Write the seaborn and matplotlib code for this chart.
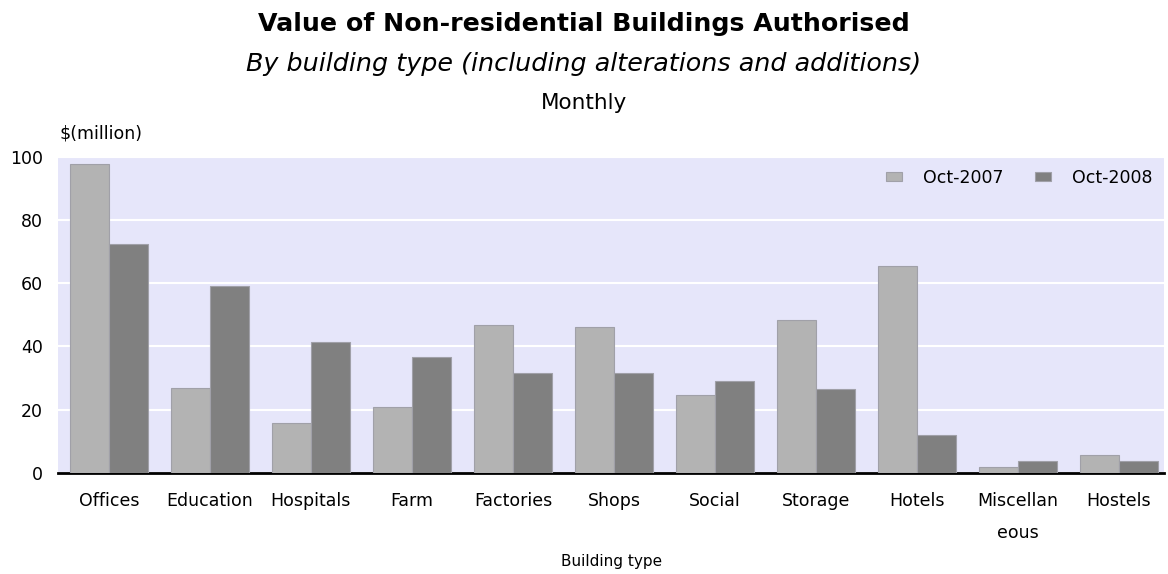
import matplotlib
matplotlib.use('Agg')
import matplotlib.pyplot as plt
import seaborn as sns
import pandas as pd
import numpy as np

# --- data ---
building_types = ['Offices', 'Education', 'Hospitals', 'Farm', 'Factories', 'Shops',
                  'Social', 'Storage', 'Hotels', 'Miscellan\neous', 'Hostels']
oct_2007 = [97.8, 26.8, 15.9, 21.0, 46.8, 46.1, 24.6, 48.5, 65.6, 1.9, 5.7]
oct_2008 = [72.5, 59.2, 41.4, 36.7, 31.6, 31.6, 29.2, 26.5, 12.1, 3.8, 3.8]
series_names = ['Oct-2007', 'Oct-2008']
y_ticks = [0, 20, 40, 60, 80, 100]

df = pd.DataFrame({'type': building_types, series_names[0]: oct_2007, series_names[1]: oct_2008})
df_long = df.melt(id_vars='type', var_name='period', value_name='value')

sns.set_style('white')
plt.rcParams['font.family'] = ['DejaVu Sans']
plt.rcParams['text.color'] = 'black'
plt.rcParams['axes.labelcolor'] = 'black'
plt.rcParams['xtick.color'] = 'black'
plt.rcParams['ytick.color'] = 'black'

fig = plt.figure(figsize=(11.68, 5.74), dpi=100)
ax = fig.add_axes([0.05, 0.176, 0.947, 0.551])

sns.barplot(data=df_long, x='type', y='value', hue='period', ax=ax,
            palette=['#b3b3b3', '#808080'], width=0.77, edgecolor='#a0a0a8', linewidth=0.8,
            saturation=1, zorder=3)

ax.set_facecolor('#e6e6fa')
ax.set_ylim(0, 100)
ax.set_yticks(y_ticks)
ax.yaxis.grid(True, color='white', linewidth=1.5, zorder=0)
ax.set_axisbelow(True)
for s in ['top', 'right', 'left']:
    ax.spines[s].set_visible(False)
ax.spines['bottom'].set_color('black')
ax.spines['bottom'].set_linewidth(2)
ax.tick_params(axis='both', length=0, labelsize=12.5)
ax.tick_params(axis='x', pad=14)
ax.tick_params(axis='y', pad=11)
for lab in ax.get_xticklabels():
    lab.set_linespacing(1.95)
ax.set_xlim(-0.5, 10.45)

ax.set_xlabel('Building type', fontsize=11, labelpad=9, color='black')
ax.set_ylabel('')

leg = ax.legend(loc='upper right', ncol=2, frameon=False, fontsize=12.5,
                handlelength=0.92, handleheight=0.4, columnspacing=1.84, handletextpad=1.2,
                borderaxespad=0.3, bbox_to_anchor=(1.0, 1.0))

fig.text(0.5, 0.958, 'Value of Non-residential Buildings Authorised', ha='center', va='center',
         fontsize=18.2, fontweight='bold')
fig.text(0.5, 0.889, 'By building type (including alterations and additions)', ha='center',
         va='center', fontsize=18.3, style='italic')
fig.text(0.5, 0.821, 'Monthly', ha='center', va='center', fontsize=15.5)
fig.text(0.051, 0.768, '$(million)', ha='left', va='center', fontsize=12.5)

plt.savefig('out.png', dpi=100)
